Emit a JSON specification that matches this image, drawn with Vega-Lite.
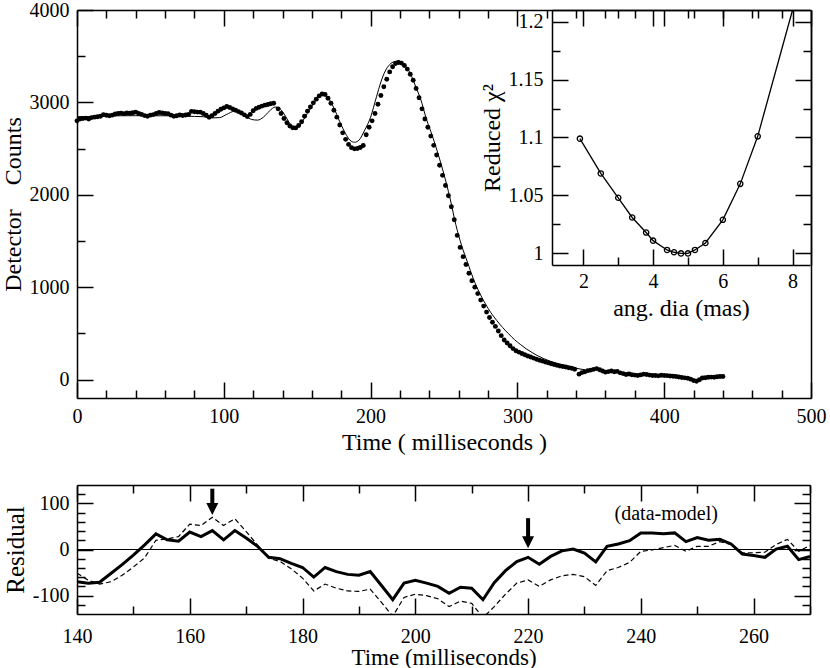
{
  "$schema": "https://vega.github.io/schema/vega-lite/v6.json",
  "padding": {"left": 1, "top": 0, "right": 2, "bottom": 0},
  "spacing": 30,
  "datasets": {
    "dots": [
      {"t": 0, "c": 2800}, {"t": 2, "c": 2820}, {"t": 4, "c": 2825}, {"t": 6, "c": 2830}, {"t": 8, "c": 2820},
      {"t": 10, "c": 2835}, {"t": 12, "c": 2840}, {"t": 14, "c": 2845}, {"t": 16, "c": 2850}, {"t": 18, "c": 2868},
      {"t": 20, "c": 2860}, {"t": 22, "c": 2855}, {"t": 24, "c": 2862}, {"t": 26, "c": 2875}, {"t": 28, "c": 2880},
      {"t": 30, "c": 2884}, {"t": 32, "c": 2878}, {"t": 34, "c": 2885}, {"t": 36, "c": 2882}, {"t": 38, "c": 2888},
      {"t": 40, "c": 2894}, {"t": 42, "c": 2880}, {"t": 44, "c": 2870}, {"t": 46, "c": 2857}, {"t": 48, "c": 2850},
      {"t": 50, "c": 2862}, {"t": 52, "c": 2868}, {"t": 54, "c": 2880}, {"t": 56, "c": 2890}, {"t": 58, "c": 2886},
      {"t": 60, "c": 2880}, {"t": 62, "c": 2878}, {"t": 64, "c": 2862}, {"t": 66, "c": 2850}, {"t": 68, "c": 2856},
      {"t": 70, "c": 2864}, {"t": 72, "c": 2858}, {"t": 74, "c": 2864}, {"t": 76, "c": 2870}, {"t": 78, "c": 2903},
      {"t": 80, "c": 2898}, {"t": 82, "c": 2895}, {"t": 84, "c": 2894}, {"t": 86, "c": 2880}, {"t": 88, "c": 2860},
      {"t": 90, "c": 2839}, {"t": 92, "c": 2855}, {"t": 94, "c": 2880}, {"t": 96, "c": 2905}, {"t": 98, "c": 2925},
      {"t": 100, "c": 2940}, {"t": 102, "c": 2955}, {"t": 104, "c": 2945}, {"t": 106, "c": 2930}, {"t": 108, "c": 2915},
      {"t": 110, "c": 2900}, {"t": 112, "c": 2885}, {"t": 114, "c": 2865}, {"t": 116, "c": 2846}, {"t": 118, "c": 2870},
      {"t": 120, "c": 2910}, {"t": 122, "c": 2935}, {"t": 124, "c": 2948}, {"t": 126, "c": 2960}, {"t": 128, "c": 2970},
      {"t": 130, "c": 2977}, {"t": 132, "c": 2985}, {"t": 134, "c": 2991}, {"t": 137, "c": 2930}, {"t": 139, "c": 2880},
      {"t": 141, "c": 2825}, {"t": 143, "c": 2780}, {"t": 145, "c": 2745}, {"t": 147, "c": 2726}, {"t": 149, "c": 2724},
      {"t": 151, "c": 2750}, {"t": 153, "c": 2790}, {"t": 155, "c": 2850}, {"t": 157, "c": 2905}, {"t": 159, "c": 2950},
      {"t": 161, "c": 2995}, {"t": 163, "c": 3035}, {"t": 165, "c": 3070}, {"t": 167, "c": 3090}, {"t": 169, "c": 3085},
      {"t": 171, "c": 3045}, {"t": 173, "c": 2990}, {"t": 175, "c": 2915}, {"t": 177, "c": 2840}, {"t": 179, "c": 2755},
      {"t": 181, "c": 2670}, {"t": 183, "c": 2600}, {"t": 185, "c": 2545}, {"t": 187, "c": 2510}, {"t": 189, "c": 2497},
      {"t": 191, "c": 2500}, {"t": 193, "c": 2512}, {"t": 195, "c": 2533}, {"t": 197, "c": 2650}, {"t": 199, "c": 2730},
      {"t": 201, "c": 2800}, {"t": 203, "c": 2880}, {"t": 205, "c": 2980}, {"t": 207, "c": 3075}, {"t": 209, "c": 3170},
      {"t": 211, "c": 3250}, {"t": 213, "c": 3330}, {"t": 215, "c": 3385}, {"t": 217, "c": 3420}, {"t": 219, "c": 3432},
      {"t": 221, "c": 3425}, {"t": 223, "c": 3400}, {"t": 225, "c": 3360}, {"t": 227, "c": 3305}, {"t": 229, "c": 3240},
      {"t": 231, "c": 3150}, {"t": 233, "c": 3050}, {"t": 235, "c": 2930}, {"t": 237, "c": 2820}, {"t": 239, "c": 2730},
      {"t": 241, "c": 2635}, {"t": 243, "c": 2535}, {"t": 245, "c": 2430}, {"t": 247, "c": 2320}, {"t": 249, "c": 2210},
      {"t": 251, "c": 2100}, {"t": 253, "c": 1990}, {"t": 255, "c": 1870}, {"t": 257, "c": 1730}, {"t": 259, "c": 1560},
      {"t": 261, "c": 1430}, {"t": 263, "c": 1330}, {"t": 265, "c": 1245}, {"t": 267, "c": 1150}, {"t": 269, "c": 1070},
      {"t": 271, "c": 1000}, {"t": 273, "c": 930}, {"t": 275, "c": 860}, {"t": 277, "c": 795}, {"t": 279, "c": 730},
      {"t": 281, "c": 672}, {"t": 283, "c": 620}, {"t": 285, "c": 575}, {"t": 287, "c": 525}, {"t": 289, "c": 475},
      {"t": 291, "c": 428}, {"t": 293, "c": 395}, {"t": 295, "c": 365}, {"t": 297, "c": 335}, {"t": 299, "c": 312},
      {"t": 301, "c": 297}, {"t": 303, "c": 282}, {"t": 305, "c": 268}, {"t": 307, "c": 255}, {"t": 309, "c": 244},
      {"t": 311, "c": 232}, {"t": 313, "c": 220}, {"t": 315, "c": 208}, {"t": 317, "c": 200}, {"t": 319, "c": 190},
      {"t": 321, "c": 182}, {"t": 323, "c": 170}, {"t": 325, "c": 162}, {"t": 327, "c": 154}, {"t": 329, "c": 146},
      {"t": 331, "c": 141}, {"t": 333, "c": 135}, {"t": 335, "c": 128}, {"t": 337, "c": 122}, {"t": 339, "c": 112},
      {"t": 342, "c": 58}, {"t": 344, "c": 75}, {"t": 346, "c": 84}, {"t": 348, "c": 96}, {"t": 350, "c": 102},
      {"t": 352, "c": 110}, {"t": 354, "c": 118}, {"t": 356, "c": 106}, {"t": 358, "c": 92}, {"t": 360, "c": 80},
      {"t": 362, "c": 86}, {"t": 364, "c": 92}, {"t": 366, "c": 84}, {"t": 368, "c": 88}, {"t": 370, "c": 72},
      {"t": 372, "c": 64}, {"t": 374, "c": 55}, {"t": 376, "c": 60}, {"t": 378, "c": 52}, {"t": 380, "c": 48},
      {"t": 382, "c": 44}, {"t": 384, "c": 50}, {"t": 386, "c": 58}, {"t": 388, "c": 55}, {"t": 390, "c": 48},
      {"t": 392, "c": 44}, {"t": 394, "c": 44}, {"t": 396, "c": 40}, {"t": 398, "c": 46}, {"t": 400, "c": 44},
      {"t": 402, "c": 42}, {"t": 404, "c": 38}, {"t": 406, "c": 36}, {"t": 408, "c": 33}, {"t": 410, "c": 28},
      {"t": 412, "c": 22}, {"t": 414, "c": 18}, {"t": 416, "c": 14}, {"t": 418, "c": 4}, {"t": 420, "c": -10},
      {"t": 422, "c": -18}, {"t": 424, "c": -2}, {"t": 426, "c": 16}, {"t": 428, "c": 20}, {"t": 430, "c": 24},
      {"t": 432, "c": 26}, {"t": 434, "c": 25}, {"t": 436, "c": 30}, {"t": 438, "c": 32}, {"t": 440, "c": 33}
    ],
    "model": [
      {"t": 0, "c": 2845}, {"t": 10, "c": 2848}, {"t": 20, "c": 2852}, {"t": 30, "c": 2855}, {"t": 40, "c": 2856},
      {"t": 50, "c": 2855}, {"t": 60, "c": 2855}, {"t": 70, "c": 2852}, {"t": 80, "c": 2848}, {"t": 86, "c": 2845},
      {"t": 92, "c": 2832}, {"t": 97, "c": 2835}, {"t": 102, "c": 2870}, {"t": 107, "c": 2903}, {"t": 111, "c": 2890},
      {"t": 115, "c": 2850}, {"t": 119, "c": 2815}, {"t": 123, "c": 2808}, {"t": 127, "c": 2840}, {"t": 131, "c": 2905},
      {"t": 135, "c": 2950}, {"t": 138, "c": 2935}, {"t": 142, "c": 2850}, {"t": 145, "c": 2770}, {"t": 148, "c": 2726},
      {"t": 151, "c": 2740}, {"t": 155, "c": 2830}, {"t": 159, "c": 2935}, {"t": 163, "c": 3030}, {"t": 166, "c": 3075},
      {"t": 168, "c": 3082}, {"t": 171, "c": 3050}, {"t": 175, "c": 2940}, {"t": 179, "c": 2790}, {"t": 183, "c": 2660},
      {"t": 186, "c": 2590}, {"t": 189, "c": 2568}, {"t": 192, "c": 2590}, {"t": 196, "c": 2700}, {"t": 200, "c": 2840},
      {"t": 204, "c": 3060}, {"t": 207, "c": 3220}, {"t": 210, "c": 3340}, {"t": 213, "c": 3410}, {"t": 216, "c": 3440},
      {"t": 219, "c": 3448}, {"t": 222, "c": 3420}, {"t": 225, "c": 3370}, {"t": 228, "c": 3280}, {"t": 231, "c": 3160},
      {"t": 234, "c": 3040}, {"t": 238, "c": 2820}, {"t": 242, "c": 2640}, {"t": 246, "c": 2440}, {"t": 250, "c": 2220},
      {"t": 254, "c": 1970}, {"t": 258, "c": 1680}, {"t": 262, "c": 1450}, {"t": 266, "c": 1270}, {"t": 270, "c": 1090},
      {"t": 274, "c": 945}, {"t": 278, "c": 825}, {"t": 282, "c": 722}, {"t": 286, "c": 638}, {"t": 290, "c": 562},
      {"t": 294, "c": 495}, {"t": 298, "c": 432}, {"t": 302, "c": 380}, {"t": 306, "c": 332}, {"t": 310, "c": 292},
      {"t": 314, "c": 256}, {"t": 318, "c": 226}, {"t": 322, "c": 200}, {"t": 326, "c": 180}, {"t": 330, "c": 160},
      {"t": 334, "c": 142}, {"t": 338, "c": 128}, {"t": 342, "c": 116}, {"t": 346, "c": 105}
    ],
    "chi": [
      {"d": 1.9, "x2": 1.099, "m": 1}, {"d": 2.5, "x2": 1.069, "m": 1}, {"d": 3.0, "x2": 1.048, "m": 1},
      {"d": 3.4, "x2": 1.031, "m": 1}, {"d": 3.8, "x2": 1.018, "m": 1}, {"d": 4.0, "x2": 1.011, "m": 1},
      {"d": 4.4, "x2": 1.003, "m": 1}, {"d": 4.6, "x2": 1.001, "m": 1}, {"d": 4.8, "x2": 1.000, "m": 1},
      {"d": 5.0, "x2": 1.000, "m": 1}, {"d": 5.2, "x2": 1.003, "m": 1}, {"d": 5.5, "x2": 1.009, "m": 1},
      {"d": 6.0, "x2": 1.029, "m": 1}, {"d": 6.5, "x2": 1.060, "m": 1}, {"d": 7.0, "x2": 1.101, "m": 1},
      {"d": 8.0, "x2": 1.21, "m": 0}
    ],
    "resid": [
      {"t": 140, "s": -70, "dm": -51}, {"t": 142, "s": -73, "dm": -67}, {"t": 144, "s": -71, "dm": -75},
      {"t": 146, "s": -52, "dm": -70}, {"t": 148, "s": -33, "dm": -56}, {"t": 150, "s": -12, "dm": -38},
      {"t": 152, "s": 10, "dm": -18}, {"t": 154, "s": 34, "dm": 20}, {"t": 156, "s": 21, "dm": 23},
      {"t": 158, "s": 18, "dm": 28}, {"t": 160, "s": 38, "dm": 55}, {"t": 162, "s": 28, "dm": 52},
      {"t": 164, "s": 41, "dm": 70}, {"t": 166, "s": 21, "dm": 52}, {"t": 168, "s": 41, "dm": 67},
      {"t": 170, "s": 25, "dm": 39}, {"t": 172, "s": 7, "dm": 10}, {"t": 174, "s": -17, "dm": -19},
      {"t": 176, "s": -20, "dm": -26}, {"t": 178, "s": -30, "dm": -42}, {"t": 180, "s": -39, "dm": -62},
      {"t": 182, "s": -60, "dm": -90}, {"t": 184, "s": -39, "dm": -75}, {"t": 186, "s": -48, "dm": -84},
      {"t": 188, "s": -54, "dm": -90}, {"t": 190, "s": -56, "dm": -91}, {"t": 192, "s": -48, "dm": -86},
      {"t": 194, "s": -78, "dm": -115}, {"t": 196, "s": -109, "dm": -145}, {"t": 198, "s": -73, "dm": -104},
      {"t": 200, "s": -67, "dm": -97}, {"t": 202, "s": -73, "dm": -100}, {"t": 204, "s": -80, "dm": -107},
      {"t": 206, "s": -95, "dm": -124}, {"t": 208, "s": -82, "dm": -112}, {"t": 210, "s": -84, "dm": -117},
      {"t": 212, "s": -109, "dm": -148}, {"t": 214, "s": -72, "dm": -124}, {"t": 216, "s": -46, "dm": -97},
      {"t": 218, "s": -26, "dm": -73}, {"t": 220, "s": -17, "dm": -66}, {"t": 222, "s": -32, "dm": -80},
      {"t": 224, "s": -15, "dm": -66}, {"t": 226, "s": -3, "dm": -57}, {"t": 228, "s": 1, "dm": -54},
      {"t": 230, "s": -8, "dm": -59}, {"t": 232, "s": -27, "dm": -78}, {"t": 234, "s": 7, "dm": -46},
      {"t": 236, "s": 12, "dm": -39}, {"t": 238, "s": 19, "dm": -28}, {"t": 240, "s": 36, "dm": -4},
      {"t": 242, "s": 36, "dm": -1}, {"t": 244, "s": 34, "dm": 4}, {"t": 246, "s": 36, "dm": 9},
      {"t": 248, "s": 17, "dm": -4}, {"t": 250, "s": 26, "dm": 7}, {"t": 252, "s": 20, "dm": 7},
      {"t": 254, "s": 22, "dm": 17}, {"t": 256, "s": 12, "dm": 11}, {"t": 258, "s": -10, "dm": -7},
      {"t": 260, "s": -13, "dm": -7}, {"t": 262, "s": -17, "dm": -6}, {"t": 264, "s": 1, "dm": 11},
      {"t": 266, "s": 7, "dm": 22}, {"t": 268, "s": -22, "dm": -4}, {"t": 270, "s": -15, "dm": 9}
    ],
    "arrows": [
      {"t": 164, "top": 132, "bottom": 95, "head": 88},
      {"t": 220, "top": 68, "bottom": 24, "head": 16}
    ],
    "note": [
      {"t": 244.5, "r": 76, "z": 0, "label": "(data-model)"}
    ]
  },
  "vconcat": [
    {
      "width": 734,
      "height": 388,
      "layer": [
        {
          "layer": [
            {
              "data": {"name": "model"},
              "mark": {"type": "line", "color": "black", "strokeWidth": 1, "interpolate": "monotone"},
              "encoding": {
                "x": {"field": "t", "type": "quantitative", "scale": {"domain": [0, 500], "nice": false, "zero": false},
                      "axis": {"orient": "bottom", "values": [0, 100, 200, 300, 400, 500], "ticks": false, "domain": false,
                               "labelPadding": 8, "labelExpr": "'' + datum.value", "title": "Time ( milliseconds )", "titlePadding": 4}},
                "y": {"field": "c", "type": "quantitative", "scale": {"domain": [-200, 4000], "nice": false, "zero": false},
                      "axis": {"orient": "left", "values": [0, 1000, 2000, 3000, 4000], "ticks": false, "domain": false,
                               "labelPadding": 8, "labelExpr": "'' + datum.value", "title": "Detector\u00a0\u00a0\u00a0 Counts", "titlePadding": 4}}
              }
            },
            {
              "data": {"name": "dots"},
              "mark": {"type": "point", "filled": true, "color": "black", "size": 24, "opacity": 1},
              "encoding": {
                "x": {"field": "t", "type": "quantitative", "scale": {"domain": [0, 500], "nice": false, "zero": false},
                      "axis": {"orient": "bottom", "values": [0, 100, 200, 300, 400, 500], "labels": false, "title": null, "tickSize": -16}},
                "y": {"field": "c", "type": "quantitative", "scale": {"domain": [-200, 4000], "nice": false, "zero": false},
                      "axis": {"orient": "left", "values": [0, 1000, 2000, 3000, 4000], "labels": false, "title": null, "tickSize": -16}}
              }
            },
            {
              "data": {"name": "model"},
              "mark": {"type": "point", "opacity": 0},
              "encoding": {
                "x": {"field": "t", "type": "quantitative", "scale": {"domain": [0, 500], "nice": false, "zero": false},
                      "axis": {"orient": "bottom", "values": [20, 40, 60, 80, 120, 140, 160, 180, 220, 240, 260, 280, 320, 340, 360, 380, 420, 440, 460, 480],
                               "labels": false, "title": null, "domain": false, "tickSize": -8}},
                "y": {"field": "c", "type": "quantitative", "scale": {"domain": [-200, 4000], "nice": false, "zero": false},
                      "axis": {"orient": "left", "values": [500, 1500, 2500, 3500], "labels": false, "title": null, "domain": false, "tickSize": -8}}
              }
            },
            {
              "data": {"name": "model"},
              "mark": {"type": "point", "opacity": 0},
              "encoding": {
                "x": {"field": "t", "type": "quantitative", "scale": {"domain": [0, 500], "nice": false, "zero": false},
                      "axis": {"orient": "top", "values": [0, 100, 200, 300, 400, 500], "labels": false, "title": null, "tickSize": -16}},
                "y": {"field": "c", "type": "quantitative", "scale": {"domain": [-200, 4000], "nice": false, "zero": false},
                      "axis": {"orient": "right", "labels": false, "ticks": false, "title": null}}
              }
            },
            {
              "data": {"name": "model"},
              "mark": {"type": "point", "opacity": 0},
              "encoding": {
                "x": {"field": "t", "type": "quantitative", "scale": {"domain": [0, 500], "nice": false, "zero": false},
                      "axis": {"orient": "top", "values": [20, 40, 60, 80, 120, 140, 160, 180, 220, 240, 260, 280, 320, 340, 360, 380, 420, 440, 460, 480],
                               "labels": false, "title": null, "domain": false, "tickSize": -8}},
                "y": {"field": "c", "type": "quantitative", "scale": {"domain": [-200, 4000], "nice": false, "zero": false}, "axis": null}
              }
            }
          ],
          "resolve": {"axis": {"x": "independent", "y": "independent"}}
        },
        {
          "data": {"name": "chi"},
          "layer": [
            {
              "mark": {"type": "line", "color": "black", "strokeWidth": 1.3},
              "encoding": {
                "x": {"field": "d", "type": "quantitative", "scale": {"domain": [1.1, 8.5], "range": [475, 733], "nice": false, "zero": false},
                      "axis": {"orient": "bottom", "offset": -133, "values": [2, 4, 6, 8], "ticks": false, "domain": false,
                               "labelPadding": 6, "labelExpr": "'' + datum.value", "title": "ang. dia (mas)", "titlePadding": 5}},
                "y": {"field": "x2", "type": "quantitative", "scale": {"domain": [0.99, 1.21], "range": [255, 0], "nice": false, "zero": false},
                      "axis": {"orient": "left", "offset": -475, "values": [1, 1.05, 1.1, 1.15, 1.2], "ticks": false, "domain": false,
                               "labelPadding": 9, "labelExpr": "'' + datum.value", "title": "Reduced χ²", "titlePadding": 4}}
              }
            },
            {
              "transform": [{"filter": "datum.m == 1"}],
              "mark": {"type": "point", "filled": false, "color": "black", "size": 28, "strokeWidth": 1.3, "opacity": 1},
              "encoding": {
                "x": {"field": "d", "type": "quantitative", "scale": {"domain": [1.1, 8.5], "range": [475, 733], "nice": false, "zero": false},
                      "axis": {"orient": "bottom", "offset": -133, "values": [2, 4, 6, 8], "labels": false, "title": null, "tickSize": -16}},
                "y": {"field": "x2", "type": "quantitative", "scale": {"domain": [0.99, 1.21], "range": [255, 0], "nice": false, "zero": false},
                      "axis": {"orient": "left", "offset": -475, "values": [1, 1.05, 1.1, 1.15, 1.2], "labels": false, "title": null, "tickSize": -16}}
              }
            },
            {
              "mark": {"type": "point", "opacity": 0},
              "encoding": {
                "x": {"field": "d", "type": "quantitative", "scale": {"domain": [1.1, 8.5], "range": [475, 733], "nice": false, "zero": false},
                      "axis": {"orient": "bottom", "offset": -133, "values": [3, 5, 7], "labels": false, "title": null, "domain": false, "tickSize": -8}},
                "y": {"field": "x2", "type": "quantitative", "scale": {"domain": [0.99, 1.21], "range": [255, 0], "nice": false, "zero": false},
                      "axis": {"orient": "left", "offset": -475, "values": [1.025, 1.075, 1.125, 1.175], "labels": false, "title": null, "domain": false, "tickSize": -8}}
              }
            },
            {
              "mark": {"type": "point", "opacity": 0},
              "encoding": {
                "x": {"field": "d", "type": "quantitative", "scale": {"domain": [1.1, 8.5], "range": [475, 733], "nice": false, "zero": false},
                      "axis": {"orient": "top", "values": [2, 4, 6, 8], "labels": false, "title": null, "tickSize": -16}},
                "y": {"field": "x2", "type": "quantitative", "scale": {"domain": [0.99, 1.21], "range": [255, 0], "nice": false, "zero": false},
                      "axis": {"orient": "right", "values": [1, 1.05, 1.1, 1.15, 1.2], "labels": false, "title": null, "tickSize": -16}}
              }
            },
            {
              "mark": {"type": "point", "opacity": 0},
              "encoding": {
                "x": {"field": "d", "type": "quantitative", "scale": {"domain": [1.1, 8.5], "range": [475, 733], "nice": false, "zero": false},
                      "axis": {"orient": "top", "values": [3, 5, 7], "labels": false, "title": null, "domain": false, "tickSize": -8}},
                "y": {"field": "x2", "type": "quantitative", "scale": {"domain": [0.99, 1.21], "range": [255, 0], "nice": false, "zero": false},
                      "axis": {"orient": "right", "values": [1.025, 1.075, 1.125, 1.175], "labels": false, "title": null, "domain": false, "tickSize": -8}}
              }
            }
          ],
          "resolve": {"axis": {"x": "independent", "y": "independent"}}
        }
      ],
      "resolve": {"scale": {"x": "independent", "y": "independent"}, "axis": {"x": "independent", "y": "independent"}}
    },
    {
      "width": 733,
      "height": 129,
      "layer": [
        {
          "data": {"name": "resid"},
          "mark": {"type": "line", "color": "black", "strokeWidth": 3, "clip": true},
          "encoding": {
            "x": {"field": "t", "type": "quantitative", "scale": {"domain": [140, 270], "nice": false, "zero": false},
                  "axis": {"orient": "bottom", "values": [140, 160, 180, 200, 220, 240, 260], "ticks": false, "domain": false,
                           "labelPadding": 12, "labelExpr": "'' + datum.value", "title": "Time (milliseconds)", "titleFontSize": 23, "titlePadding": 0}},
            "y": {"field": "s", "type": "quantitative", "scale": {"domain": [-140, 140], "nice": false, "zero": false},
                  "axis": {"orient": "left", "values": [-100, 0, 100], "ticks": false, "domain": false,
                           "labelPadding": 8, "labelExpr": "'' + datum.value", "title": "Residual", "titleFontSize": 25, "titlePadding": 4}}
          }
        },
        {
          "data": {"name": "resid"},
          "mark": {"type": "line", "color": "black", "strokeWidth": 1.2, "strokeDash": [5, 3], "clip": true},
          "encoding": {
            "x": {"field": "t", "type": "quantitative", "scale": {"domain": [140, 270], "nice": false, "zero": false},
                  "axis": {"orient": "bottom", "values": [140, 160, 180, 200, 220, 240, 260], "labels": false, "title": null, "tickSize": -16}},
            "y": {"field": "dm", "type": "quantitative", "scale": {"domain": [-140, 140], "nice": false, "zero": false},
                  "axis": {"orient": "left", "values": [-100, 0, 100], "labels": false, "title": null, "tickSize": -16}}
          }
        },
        {
          "data": {"name": "note"},
          "mark": {"type": "rule", "color": "black", "strokeWidth": 1.2},
          "encoding": {
            "y": {"field": "z", "type": "quantitative", "scale": {"domain": [-140, 140], "nice": false, "zero": false}, "axis": null}
          }
        },
        {
          "data": {"name": "arrows"},
          "mark": {"type": "rule", "color": "black", "strokeWidth": 4},
          "encoding": {
            "x": {"field": "t", "type": "quantitative", "scale": {"domain": [140, 270], "nice": false, "zero": false},
                  "axis": {"orient": "bottom", "values": [150, 170, 190, 210, 230, 250, 270], "labels": false, "title": null, "domain": false, "tickSize": -8}},
            "y": {"field": "top", "type": "quantitative", "scale": {"domain": [-140, 140], "nice": false, "zero": false},
                  "axis": {"orient": "left", "values": [-120, -80, -60, -40, -20, 20, 40, 60, 80, 120], "labels": false, "title": null, "domain": false, "tickSize": -8}},
            "y2": {"field": "bottom"}
          }
        },
        {
          "data": {"name": "arrows"},
          "mark": {"type": "point", "shape": "M-1,-1L1,-1L0,1Z", "filled": true, "color": "black", "size": 144, "opacity": 1},
          "encoding": {
            "x": {"field": "t", "type": "quantitative", "scale": {"domain": [140, 270], "nice": false, "zero": false},
                  "axis": {"orient": "top", "values": [140, 160, 180, 200, 220, 240, 260], "labels": false, "title": null, "tickSize": -16}},
            "y": {"field": "head", "type": "quantitative", "scale": {"domain": [-140, 140], "nice": false, "zero": false},
                  "axis": {"orient": "right", "values": [-100, 0, 100], "labels": false, "title": null, "tickSize": -16}}
          }
        },
        {
          "data": {"name": "note"},
          "mark": {"type": "text", "fontSize": 20, "font": "Times New Roman, Liberation Serif, DejaVu Serif, serif", "color": "black", "align": "center", "baseline": "middle"},
          "encoding": {
            "x": {"field": "t", "type": "quantitative", "scale": {"domain": [140, 270], "nice": false, "zero": false},
                  "axis": {"orient": "top", "values": [150, 170, 190, 210, 230, 250, 270], "labels": false, "title": null, "domain": false, "tickSize": -8}},
            "y": {"field": "r", "type": "quantitative", "scale": {"domain": [-140, 140], "nice": false, "zero": false},
                  "axis": {"orient": "right", "values": [-120, -80, -60, -40, -20, 20, 40, 60, 80, 120], "labels": false, "title": null, "domain": false, "tickSize": -8}},
            "text": {"field": "label"}
          }
        }
      ],
      "resolve": {"axis": {"x": "independent", "y": "independent"}}
    }
  ],
  "config": {
    "font": "Times New Roman, Liberation Serif, DejaVu Serif, serif",
    "view": {"stroke": null},
    "axis": {
      "grid": false,
      "labelFont": "Times New Roman, Liberation Serif, DejaVu Serif, serif",
      "titleFont": "Times New Roman, Liberation Serif, DejaVu Serif, serif",
      "labelFontSize": 20,
      "titleFontSize": 24,
      "titleFontWeight": "normal",
      "labelColor": "black",
      "titleColor": "black",
      "domainColor": "black",
      "tickColor": "black",
      "domainWidth": 1.5,
      "tickWidth": 1.5,
      "labelFlush": false,
      "labelOverlap": false
    }
  }
}
